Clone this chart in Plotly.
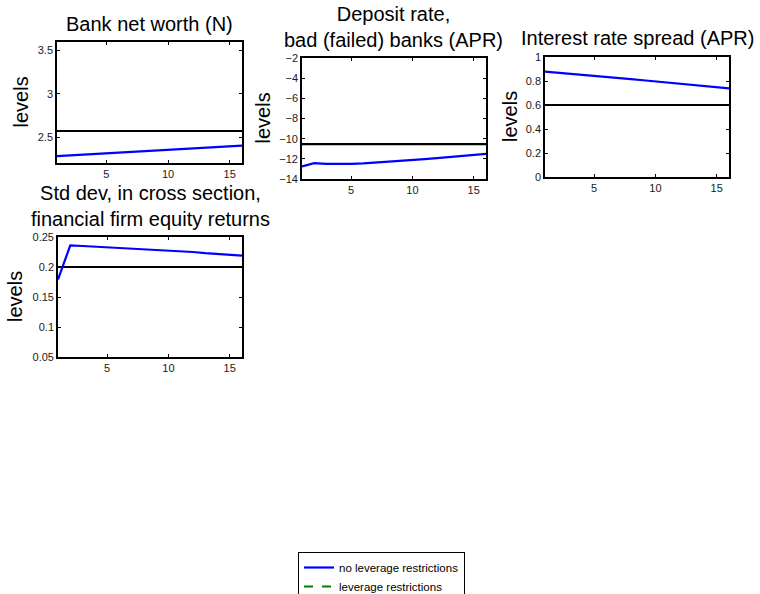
import plotly.graph_objects as go

W, H = 760, 594

periods = list(range(1, 17))

# Panel 1: Bank net worth (N)
net_worth_no_lev = [2.280, 2.288, 2.296, 2.304, 2.312, 2.320, 2.328, 2.336,
                    2.344, 2.352, 2.360, 2.368, 2.376, 2.384, 2.392, 2.400]
net_worth_ss = 2.57

# Panel 2: Deposit rate, bad (failed) banks (APR)
deposit_bad_no_lev = [-12.75, -12.43, -12.50, -12.52, -12.50, -12.45, -12.38, -12.30,
                      -12.21, -12.12, -12.03, -11.93, -11.83, -11.72, -11.61, -11.50]
deposit_bad_ss = -10.55

# Panel 3: Interest rate spread (APR)
spread_no_lev = [0.878, 0.870, 0.861, 0.852, 0.843, 0.834, 0.825, 0.816,
                 0.806, 0.797, 0.787, 0.778, 0.768, 0.758, 0.748, 0.738]
spread_ss = 0.60

# Panel 4: Std dev of financial firm equity returns
stddev_no_lev = [0.179, 0.236, 0.235, 0.234, 0.233, 0.231, 0.230, 0.229,
                 0.228, 0.227, 0.226, 0.225, 0.223, 0.222, 0.221, 0.219]
stddev_ss = 0.20

titles = ["Bank net worth (N)",
          "Deposit rate,<br>bad (failed) banks (APR)",
          "Interest rate spread (APR)",
          "Std dev, in cross section,<br>financial firm equity returns"]
y_ranges = [[2.2, 3.6], [-14, -2], [0, 1], [0.05, 0.25]]
y_ticks = [[2.5, 3, 3.5], [-14, -12, -10, -8, -6, -4, -2],
           [0, 0.2, 0.4, 0.6, 0.8, 1], [0.05, 0.1, 0.15, 0.2, 0.25]]
y_ticktext = [["2.5", "3", "3.5"], ["\u221214", "\u221212", "\u221210", "\u22128", "\u22126", "\u22124", "\u22122"],
              ["0", "0.2", "0.4", "0.6", "0.8", "1"], ["0.05", "0.1", "0.15", "0.2", "0.25"]]
x_ticks = [5, 10, 15]
legend_names = ["no leverage restrictions", "leverage restrictions"]

series = [net_worth_no_lev, deposit_bad_no_lev, spread_no_lev, stddev_no_lev]
steady = [net_worth_ss, deposit_bad_ss, spread_ss, stddev_ss]

# pixel boxes (left, right, top, bottom)
boxes = [(57, 242, 42, 163), (302, 486, 58, 179), (545, 729, 57, 177), (58, 242, 237, 357)]
title_pos = [(149, 24), (394, 27.5), (637, 38), (150, 206)]
ylab_x = [20, 262, 510, 15]

FONT = "Liberation Sans, Arial, Helvetica, sans-serif"

fig = go.Figure()
layout = dict(width=W, height=H,
              margin=dict(l=0, r=0, t=0, b=0, pad=0, autoexpand=False),
              paper_bgcolor="white", plot_bgcolor="white",
              font=dict(family=FONT, color="black"),
              showlegend=True, annotations=[])

for i in range(4):
    sfx = "" if i == 0 else str(i + 1)
    l, r, t, b = boxes[i]
    layout["xaxis" + sfx] = dict(
        domain=[l / W, r / W], range=[1, 16], anchor="y" + sfx,
        tickvals=x_ticks, ticks="inside", ticklen=3, tickcolor="black",
        showline=True, linecolor="black", linewidth=1.6, mirror="ticks",
        showgrid=False, zeroline=False, tickfont=dict(size=11, color="#1a1a1a"))
    layout["yaxis" + sfx] = dict(
        domain=[1 - b / H, 1 - t / H], range=y_ranges[i], anchor="x" + sfx,
        tickvals=y_ticks[i], ticktext=y_ticktext[i], ticks="inside", ticklen=3,
        tickcolor="black", showline=True, linecolor="black", linewidth=1.6,
        mirror="ticks", showgrid=False, zeroline=False,
        tickfont=dict(size=11, color="#1a1a1a"))
    xa, ya = "x" + sfx, "y" + sfx
    fig.add_trace(go.Scatter(x=periods, y=[steady[i]] * len(periods), mode="lines",
                             line=dict(color="black", width=2.2), showlegend=False,
                             xaxis=xa, yaxis=ya, hoverinfo="skip"))
    fig.add_trace(go.Scatter(x=periods, y=series[i], mode="lines",
                             line=dict(color="#0000ff", width=2.2),
                             name=legend_names[0], showlegend=(i == 0),
                             legendgroup="nolev", xaxis=xa, yaxis=ya))
    tx, ty = title_pos[i]
    layout["annotations"].append(dict(
        text=titles[i], x=tx / W, y=1 - ty / H, xref="paper", yref="paper",
        xanchor="center", yanchor="middle", showarrow=False,
        font=dict(size=20, family=FONT, color="black")))
    layout["annotations"].append(dict(
        text="levels", x=ylab_x[i] / W, y=1 - ((t + b) / 2) / H, xref="paper",
        yref="paper", xanchor="center", yanchor="middle", textangle=-90,
        showarrow=False, font=dict(size=20, family=FONT, color="black")))

fig.add_trace(go.Scatter(x=[None], y=[None], mode="lines",
                         line=dict(color="#008000", width=2.2, dash="dash"),
                         name=legend_names[1], legendgroup="lev",
                         xaxis="x", yaxis="y"))

layout["legend"] = dict(x=298 / W, y=1 - 552 / H, xanchor="left", yanchor="top",
                        bordercolor="black", borderwidth=1, bgcolor="white",
                        font=dict(size=11.5, family=FONT, color="black"),
                        tracegroupgap=0, itemwidth=30)

fig.update_layout(**layout)
fig.write_html("out.html")
